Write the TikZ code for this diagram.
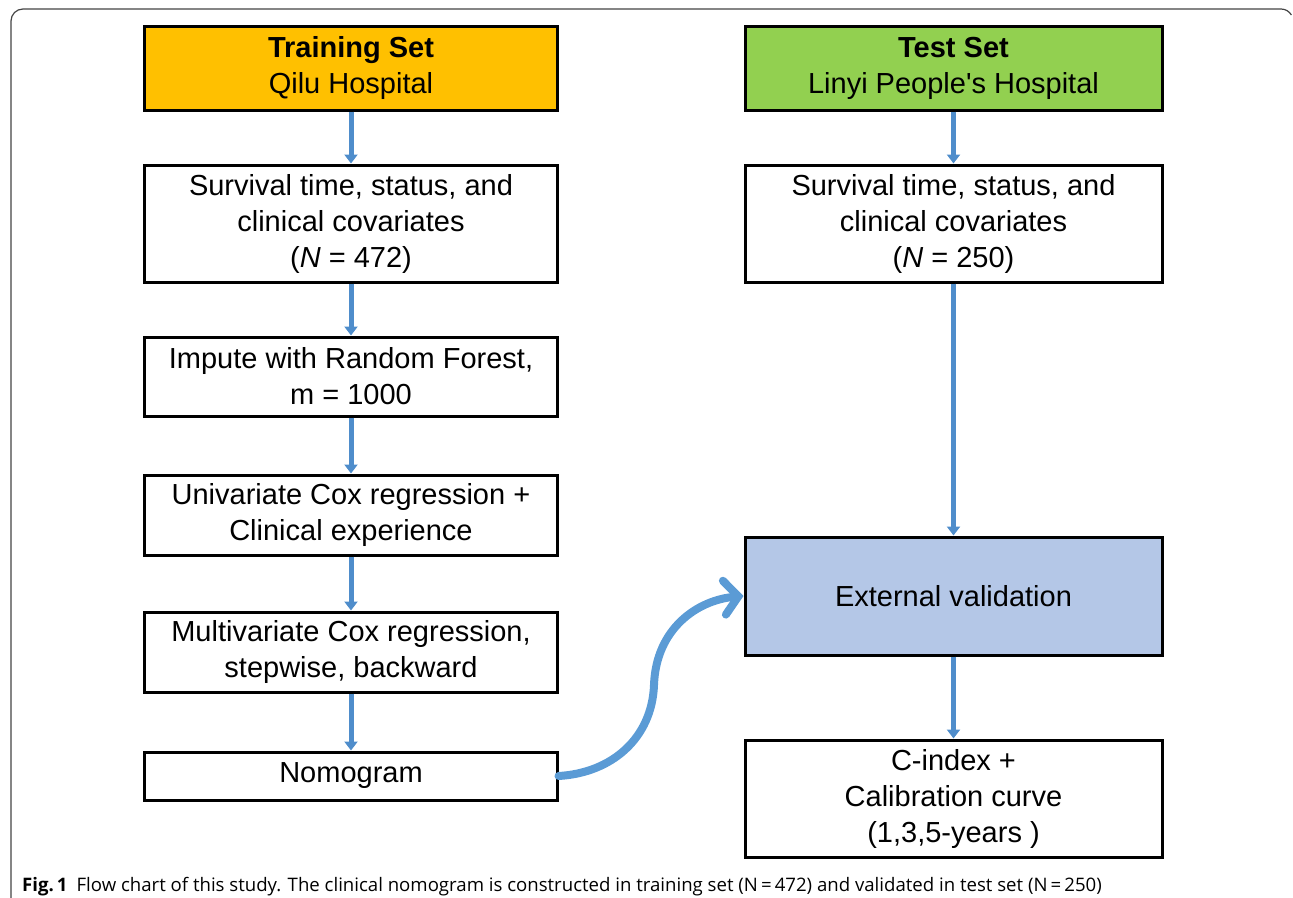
\documentclass[tikz,border=0pt]{standalone}
\usepackage{fontspec}
\setmainfont{Liberation Sans}
\newfontfamily\capfont{Open Sans}
\usetikzlibrary{arrows.meta}
\definecolor{trainfill}{HTML}{FFC000}
\definecolor{testfill}{HTML}{92D050}
\definecolor{extfill}{HTML}{B4C7E7}
\definecolor{arrowblue}{HTML}{4F8DCB}
\definecolor{curveblue}{HTML}{5B9BD5}
\definecolor{framegray}{HTML}{444444}
\tikzset{
  box/.style={draw=black, line width=3bp, rectangle, align=center, inner sep=2bp,
    font=\fontsize{29bp}{36bp}\selectfont},
  leftbox/.style={box, minimum width=412bp},
  rightbox/.style={box, minimum width=417bp},
  flow/.style={draw=arrowblue, line width=5bp, -{Triangle[length=9bp,width=13bp]}},
  curvearrow/.style={draw=curveblue, line width=8bp, line cap=round,
    -{Straight Barb[length=14bp,width=34bp,line cap=round]}},
}
\begin{document}
\begin{tikzpicture}[x=1bp,y=-1bp]
\useasboundingbox (0,0) rectangle (1293,898);
% frame
\draw[framegray, line width=1.2bp] (11,898) -- (11,21) arc[start angle=180,end angle=270,radius=12] -- (1281,9) arc[start angle=270,end angle=330,radius=12];
% left column
\node[leftbox, fill=trainfill, minimum height=83bp] (train) at (351,68.5) {\textbf{Training Set}\\Qilu Hospital};
\node[leftbox, minimum height=117bp] (survL) at (351,223.5) {Survival time, status, and\\clinical covariates\\(\textit{N} = 472)};
\node[leftbox, minimum height=79bp] (impute) at (351,376.5) {Impute with Random Forest,\\m = 1000};
\node[leftbox, minimum height=80bp] (univ) at (351,515) {Univariate Cox regression +\\Clinical experience};
\node[leftbox, minimum height=80bp] (multi) at (351,652) {Multivariate Cox regression,\\stepwise, backward};
\node[leftbox, minimum height=48bp] (nomo) at (351,776) {Nomogram};
% right column
\node[rightbox, fill=testfill, minimum height=83bp] (test) at (953.5,68.5) {\textbf{Test Set}\\Linyi People\textquotesingle s Hospital};
\node[rightbox, minimum height=117bp] (survR) at (953.5,223.5) {Survival time, status, and\\clinical covariates\\(\textit{N} = 250)};
\node[rightbox, fill=extfill, minimum height=118bp] (ext) at (953.5,596) {External validation};
\node[rightbox, minimum height=117bp] (cindex) at (953.5,798.5) {C-index +\\Calibration curve\\(1,3,5-years )};
% arrows
\draw[flow] (train) -- (survL);
\draw[flow] (survL) -- (impute);
\draw[flow] (impute) -- (univ);
\draw[flow] (univ) -- (multi);
\draw[flow] (multi) -- (nomo);
\draw[flow] (test) -- (survR);
\draw[flow] (survR) -- (ext);
\draw[flow] (ext) -- (cindex);
\coordinate (mid) at (654,685);
\draw[curvearrow] (nomo.east) .. controls (612,773) and (652,738) .. (mid)
  .. controls (656,628) and (698,600) .. (ext.west);
% caption
\node[anchor=base west, inner sep=0pt, font=\capfont\fontsize{18.6bp}{22bp}\selectfont] (cap) at (22,891)
  {\textbf{Fig.\,1}\hspace{9bp}Flow chart of this study. The clinical nomogram is constructed in training set (N\,=\,472) and validated in test set (N\,=\,250)};
\end{tikzpicture}
\end{document}
